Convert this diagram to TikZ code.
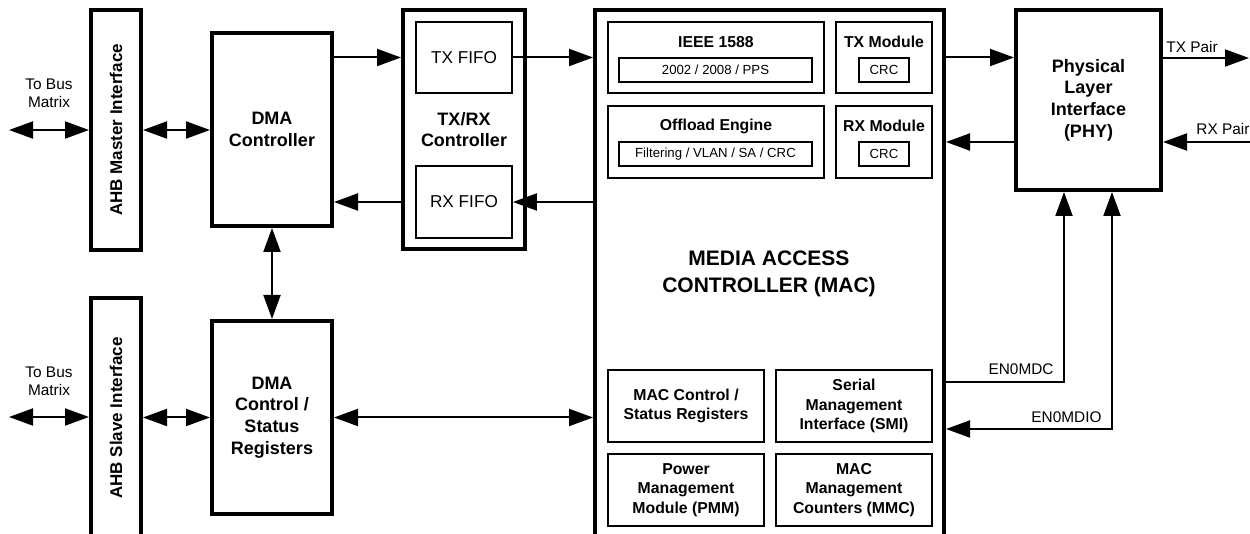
\documentclass[tikz,border=0pt]{standalone}
\usepackage{fontspec}
\setmainfont{Liberation Sans}
\usetikzlibrary{arrows.meta}

\begin{document}
\begin{tikzpicture}[x=0.5pt, y=-0.5pt]
    % Khung hình và vùng cắt
    \useasboundingbox (0,0) rectangle (1250,534);
    \clip (0,0) rectangle (1250,534);

    % Kiểu khối và đường nối
    \tikzset{
        b_big/.style={draw, line width=2pt, align=center, inner sep=0pt, font=\fontsize{9}{10.8}\selectfont\bfseries},
        b_sub/.style={draw, line width=0.9pt, align=center, inner sep=0pt, font=\fontsize{7.9}{9.7}\selectfont\bfseries},
        b_tag/.style={draw, line width=0.9pt, inner sep=0pt, font=\fontsize{6.6}{8}\selectfont},
        b_fifo/.style={draw, line width=0.9pt, inner sep=0pt, font=\fontsize{8.6}{10}\selectfont},
        t_ttl/.style={inner sep=0pt, font=\fontsize{7.9}{9.7}\selectfont\bfseries},
        t_sig/.style={inner sep=0pt, align=center, font=\fontsize{7.7}{9}\selectfont},
        c_one/.style={line width=1pt, -{Triangle[length=12pt, width=8.5pt]}},
        c_two/.style={line width=1pt, {Triangle[length=12pt, width=8.5pt]}-{Triangle[length=12pt, width=8.5pt]}}
    }

    % Giao diện AHB
    \node[b_big, minimum width=25pt, minimum height=120pt] (ahbm) at (116,130)
        {\rotatebox{90}{\fontsize{8.5}{10}\selectfont AHB Master Interface}};
    \node[b_big, minimum width=25pt, minimum height=120pt] (ahbs) at (116,418)
        {\rotatebox{90}{\fontsize{8.5}{10}\selectfont AHB Slave Interface}};

    % Khối DMA
    \node[b_big, minimum width=60pt, minimum height=96.5pt] (dma) at (272,129.5) {DMA\\Controller};
    \node[b_big, minimum width=60pt, minimum height=96.5pt] (dmacsr) at (272,417.5) {DMA\\Control /\\Status\\Registers};

    % Bộ điều khiển TX/RX
    \node[b_big, minimum width=61pt, minimum height=119.5pt] (txrx) at (464,129.5) {TX/RX\\Controller};
    \node[b_fifo, minimum width=48pt, minimum height=35.5pt] (txfifo) at (464,57.5) {TX FIFO};
    \node[b_fifo, minimum width=48pt, minimum height=36pt] (rxfifo) at (464,202) {RX FIFO};

    % Khối MAC
    \node[draw, line width=2pt, minimum width=174.5pt, minimum height=275pt] (mac) at (769.5,285) {};
    \node[inner sep=0pt, align=center, font=\fontsize{10.5}{13.5}\selectfont\bfseries] (mactitle) at (769,274)
        {MEDIA ACCESS\\CONTROLLER (MAC)};

    \node[b_sub, minimum width=108pt, minimum height=35.5pt] (ieee) at (716,57.5) {};
    \node[t_ttl] (ieeettl) at (716,42) {IEEE 1588};
    \node[b_tag, minimum width=96.5pt, minimum height=12pt] (ieeetag) at (715.5,70) {2002 / 2008 / PPS};

    \node[b_sub, minimum width=108pt, minimum height=36pt] (offl) at (716,142) {};
    \node[t_ttl] (offlttl) at (716,126) {Offload Engine};
    \node[b_tag, minimum width=96.5pt, minimum height=12pt] (offltag) at (715.5,154) {Filtering / VLAN / SA / CRC};

    \node[b_sub, minimum width=48pt, minimum height=35.5pt] (txmod) at (884,57.5) {};
    \node[t_ttl] (txmodttl) at (884,42) {TX Module};
    \node[b_tag, minimum width=25pt, minimum height=12pt] (txcrc) at (884,70) {CRC};

    \node[b_sub, minimum width=48pt, minimum height=36pt] (rxmod) at (884,142) {};
    \node[t_ttl] (rxmodttl) at (884,126) {RX Module};
    \node[b_tag, minimum width=25pt, minimum height=12pt] (rxcrc) at (884,154) {CRC};

    \node[b_sub, minimum width=78pt, minimum height=36pt] (macsr) at (686,406) {MAC Control /\\Status Registers};
    \node[b_sub, minimum width=78pt, minimum height=36pt] (smi) at (854,406) {Serial\\Management\\Interface (SMI)};
    \node[b_sub, minimum width=78pt, minimum height=36pt] (pmm) at (686,490) {Power\\Management\\Module (PMM)};
    \node[b_sub, minimum width=78pt, minimum height=36pt] (mmc) at (854,490) {MAC\\Management\\Counters (MMC)};

    % Khối PHY
    \node[b_big, minimum width=72.5pt, minimum height=90pt] (phy) at (1088.5,100) {Physical\\Layer\\Interface\\(PHY)};

    % Điểm đầu mút tự do
    \coordinate (busm) at (9,130);
    \coordinate (buss) at (9,417);
    \coordinate (txout) at (1249,58);
    \coordinate (rxin) at (1251,142);
    \coordinate (mdc) at (1064,382);
    \coordinate (mdio) at (1112,429);

    % Đường nối
    \draw[c_two] (busm) -- (ahbm);
    \draw[c_two] (buss) -- (ahbs.west |- buss);
    \draw[c_two] (ahbm.east) -- (ahbm.east -| dma.west);
    \draw[c_two] (ahbs.east |- dmacsr) -- (dmacsr.west);
    \draw[c_two] (dma) -- (dmacsr);
    \draw[c_two] (dmacsr.east) -- (dmacsr.east -| mac.west);
    \draw[c_one] (dma.east |- txfifo) -- (txrx.west |- txfifo);
    \draw[c_one] (txrx.west |- rxfifo) -- (dma.east |- rxfifo);
    \draw[c_one] (txfifo.east) -- (mac.west |- txfifo);
    \draw[c_one] (mac.west |- rxfifo) -- (rxfifo.east);
    \draw[c_one] (mac.east |- txfifo) -- (phy.west |- txfifo);
    \draw[c_one] (phy.west |- rxmod) -- (mac.east |- rxmod);
    \draw[c_one] (phy.east |- txout) -- (txout);
    \draw[c_one] (rxin) -- (rxin -| phy.east);
    \draw[c_one] (mac.east |- mdc) -- (mdc) -- (mdc |- phy.south);
    \draw[c_two] (mac.east |- mdio) -- (mdio) -- (mdio |- phy.south);

    % Nhãn tín hiệu
    \node[t_sig] (busmlbl) at (49,93) {To Bus\\Matrix};
    \node[t_sig] (buslbl) at (49,381) {To Bus\\Matrix};
    \node[t_sig, anchor=west] (txlbl) at (1166,47) {TX Pair};
    \node[t_sig, anchor=west] (rxlbl) at (1196,129) {RX Pair};
    \node[t_sig, anchor=east] (mdclbl) at (1054,369) {EN0MDC};
    \node[t_sig, anchor=east] (mdiolbl) at (1102,417) {EN0MDIO};
\end{tikzpicture}
\end{document}
